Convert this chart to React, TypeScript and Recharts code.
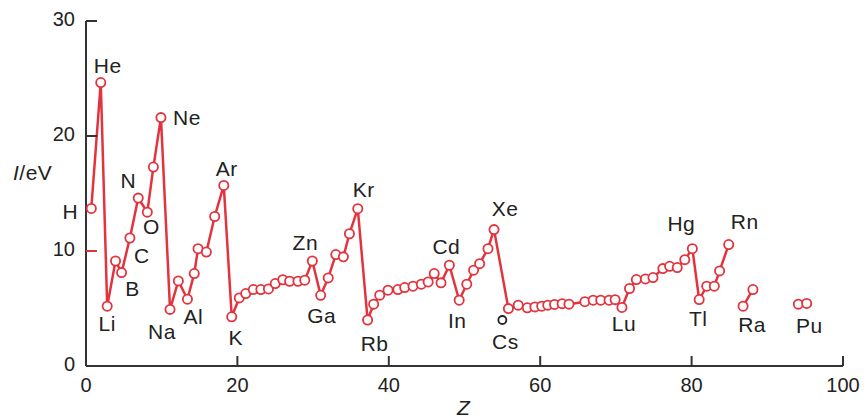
import { ComposedChart, LabelList, Line, XAxis, YAxis } from 'recharts'

const RED = '#e2333f'
const INK = '#222'
const FONT = '"Liberation Sans", Arial, sans-serif'

// H .. Rn, one connected run (Cs is drawn on its own)
const mainZ = [
  0.7, 1.95, 2.8, 3.9, 4.7, 5.8, 6.9, 8.1, 8.9, 9.9, 11.1, 12.2, 13.4, 14.3,
  14.8, 15.9, 17.0, 18.2, 19.25, 20.25, 21.1, 22.1, 23.1, 24.1, 25.0, 26.0,
  26.9, 28.0, 28.9, 29.9, 31.0, 32.0, 33.0, 34.0, 34.8, 35.9, 37.2, 38.0,
  38.8, 39.9, 41.2, 42.1, 43.2, 44.3, 45.2, 46.0, 46.9, 48.0, 49.3, 50.3,
  51.2, 52.0, 53.1, 53.9, 55.8, 57.1, 58.3, 59.3, 60.2, 61.0, 61.9, 62.9,
  63.8, 65.9, 67.0, 68.0, 69.1, 69.9, 70.8, 71.8, 72.7, 73.9, 74.9, 76.2,
  77.1, 78.1, 79.1, 80.1, 81.0, 82.0, 83.0, 83.7, 84.9,
]
const mainIE = [
  13.7, 24.65, 5.2, 9.13, 8.12, 11.13, 14.6, 13.38, 17.3, 21.6, 4.92, 7.4,
  5.81, 8.04, 10.2, 9.91, 13.0, 15.7, 4.28, 5.92, 6.3, 6.65, 6.65, 6.7, 7.17,
  7.5, 7.37, 7.37, 7.46, 9.13, 6.15, 7.66, 9.69, 9.49, 11.5, 13.68, 4.0, 5.38,
  6.16, 6.59, 6.65, 6.82, 6.94, 7.11, 7.31, 8.04, 7.23, 8.76, 5.72, 7.11,
  8.33, 8.9, 10.2, 11.86, 4.99, 5.29, 5.06, 5.14, 5.2, 5.29, 5.35, 5.42,
  5.38, 5.59, 5.72, 5.72, 5.72, 5.77, 5.09, 6.74, 7.52, 7.57, 7.69, 8.47,
  8.67, 8.56, 9.25, 10.2, 5.78, 6.94, 6.94, 8.27, 10.56,
]
const mainNames = [
  'H', 'He', 'Li', '', 'B', 'C', 'N', 'O', '', 'Ne', 'Na', '', 'Al', '', '',
  '', '', 'Ar', 'K', '', '', '', '', '', '', '', '', '', '', 'Zn', 'Ga', '',
  '', '', '', 'Kr', 'Rb', '', '', '', '', '', '', '', '', '', '', 'Cd', 'In',
  '', '', '', '', 'Xe', '', '', '', '', '', '', '', '', '', '', '', '', '',
  '', 'Lu', '', '', '', '', '', '', '', '', 'Hg', 'Tl', '', '', '', 'Rn',
]

const csZ = [55.0]
const csIE = [4.0]
const csNames = ['Cs']

const raZ = [86.8, 88.1]
const raIE = [5.2, 6.65]
const raNames = ['Ra', '']

const puZ = [94.1, 95.2]
const puIE = [5.38, 5.44]
const puNames = ['Pu', '']

const xTicks = [0, 20, 40, 60, 80, 100]
const yTicks = [0, 10, 20, 30]

// where each symbol sits relative to its point (text centre)
const LABEL_OFFSET: Record<string, [number, number]> = {
  H: [-21, 5],
  He: [7, -15],
  Li: [0, 19],
  B: [11, 18],
  C: [12, 19],
  N: [-10, -16],
  O: [4, 16],
  Ne: [26, 2],
  Na: [-8, 24],
  Al: [6, 19],
  Ar: [3, -15],
  K: [4, 23],
  Zn: [-7, -17],
  Ga: [1, 22],
  Kr: [6, -17],
  Rb: [7, 25],
  Cd: [-3, -17],
  In: [-2, 22],
  Xe: [11, -19],
  Cs: [3, 23],
  Lu: [2, 18],
  Hg: [-11, -23],
  Tl: [-1, 21],
  Rn: [16, -21],
  Ra: [9, 20],
  Pu: [11, 23],
}

const build = (z: number[], ie: number[], names: string[]) =>
  z.map((v, i) => ({ z: v, ie: ie[i], name: names[i] }))

const mainData = build(mainZ, mainIE, mainNames)
const csData = build(csZ, csIE, csNames)
const raData = build(raZ, raIE, raNames)
const puData = build(puZ, puIE, puNames)

const redDot = { r: 4.6, fill: '#fff', stroke: RED, strokeWidth: 1.8 }

const SymbolLabel = (props: any) => {
  const { x, y, value } = props
  if (!value) return null
  const [dx, dy] = LABEL_OFFSET[value] || [0, -16]
  return (
    <text
      x={x + dx}
      y={y + dy}
      textAnchor='middle'
      dominantBaseline='middle'
      fontFamily={FONT}
      fontSize={21}
      letterSpacing={0.5}
      fill={INK}
    >
      {value}
    </text>
  )
}

const XTick = (props: any) => {
  const { x, y, payload } = props
  return (
    <g>
      {payload.value !== 0 && (
        <line x1={x} x2={x} y1={y} y2={y - 10} stroke='#333' strokeWidth={2} />
      )}
      <text
        x={x}
        y={y + 21}
        textAnchor='middle'
        dominantBaseline='middle'
        fontFamily={FONT}
        fontSize={20}
        fill={INK}
      >
        {payload.value}
      </text>
    </g>
  )
}

const YTick = (props: any) => {
  const { x, y, payload } = props
  return (
    <g>
      {payload.value !== 0 && (
        <line
          x1={x}
          x2={x + 11}
          y1={y}
          y2={y}
          stroke={payload.value === 10 ? RED : '#333'}
          strokeWidth={2}
        />
      )}
      <text
        x={x - 11}
        y={y}
        textAnchor='end'
        dominantBaseline='middle'
        fontFamily={FONT}
        fontSize={20}
        fill={INK}
      >
        {payload.value}
      </text>
    </g>
  )
}

export default function App() {
  return (
    <div
      style={{
        position: 'absolute',
        left: 0,
        top: 0,
        width: 864,
        height: 419,
        background: '#fff',
      }}
    >
      <ComposedChart
        width={864}
        height={419}
        margin={{ top: 21, right: 21, left: 0, bottom: 0 }}
      >
        <XAxis
          type='number'
          dataKey='z'
          domain={[0, 100]}
          ticks={xTicks}
          allowDataOverflow
          height={53}
          tickLine={false}
          tickSize={0}
          tickMargin={0}
          axisLine={{ stroke: '#333', strokeWidth: 2 }}
          tick={<XTick />}
        />
        <YAxis
          type='number'
          domain={[0, 30]}
          ticks={yTicks}
          allowDataOverflow
          width={86}
          tickLine={false}
          tickSize={0}
          tickMargin={0}
          axisLine={{ stroke: '#333', strokeWidth: 2 }}
          tick={<YTick />}
        />
        <Line
          data={mainData}
          dataKey='ie'
          stroke={RED}
          strokeWidth={2.5}
          dot={redDot}
          activeDot={false}
          isAnimationActive={false}
        >
          <LabelList dataKey='name' content={<SymbolLabel />} />
        </Line>
        <Line
          data={raData}
          dataKey='ie'
          stroke={RED}
          strokeWidth={2.5}
          dot={redDot}
          activeDot={false}
          isAnimationActive={false}
        >
          <LabelList dataKey='name' content={<SymbolLabel />} />
        </Line>
        <Line
          data={puData}
          dataKey='ie'
          stroke={RED}
          strokeWidth={2.5}
          dot={redDot}
          activeDot={false}
          isAnimationActive={false}
        >
          <LabelList dataKey='name' content={<SymbolLabel />} />
        </Line>
        <Line
          data={csData}
          dataKey='ie'
          stroke='none'
          dot={{ r: 4, fill: '#fff', stroke: INK, strokeWidth: 1.8 }}
          activeDot={false}
          isAnimationActive={false}
        >
          <LabelList dataKey='name' content={<SymbolLabel />} />
        </Line>
      </ComposedChart>
      <div
        style={{
          position: 'absolute',
          left: 13,
          top: 160,
          fontFamily: FONT,
          fontSize: 21,
          letterSpacing: 0.5,
          color: INK,
          lineHeight: '26px',
        }}
      >
        <i>I</i>/eV
      </div>
      <div
        style={{
          position: 'absolute',
          left: 457,
          top: 395,
          fontFamily: FONT,
          fontSize: 21,
          fontStyle: 'italic',
          color: INK,
          lineHeight: '26px',
        }}
      >
        Z
      </div>
    </div>
  )
}
